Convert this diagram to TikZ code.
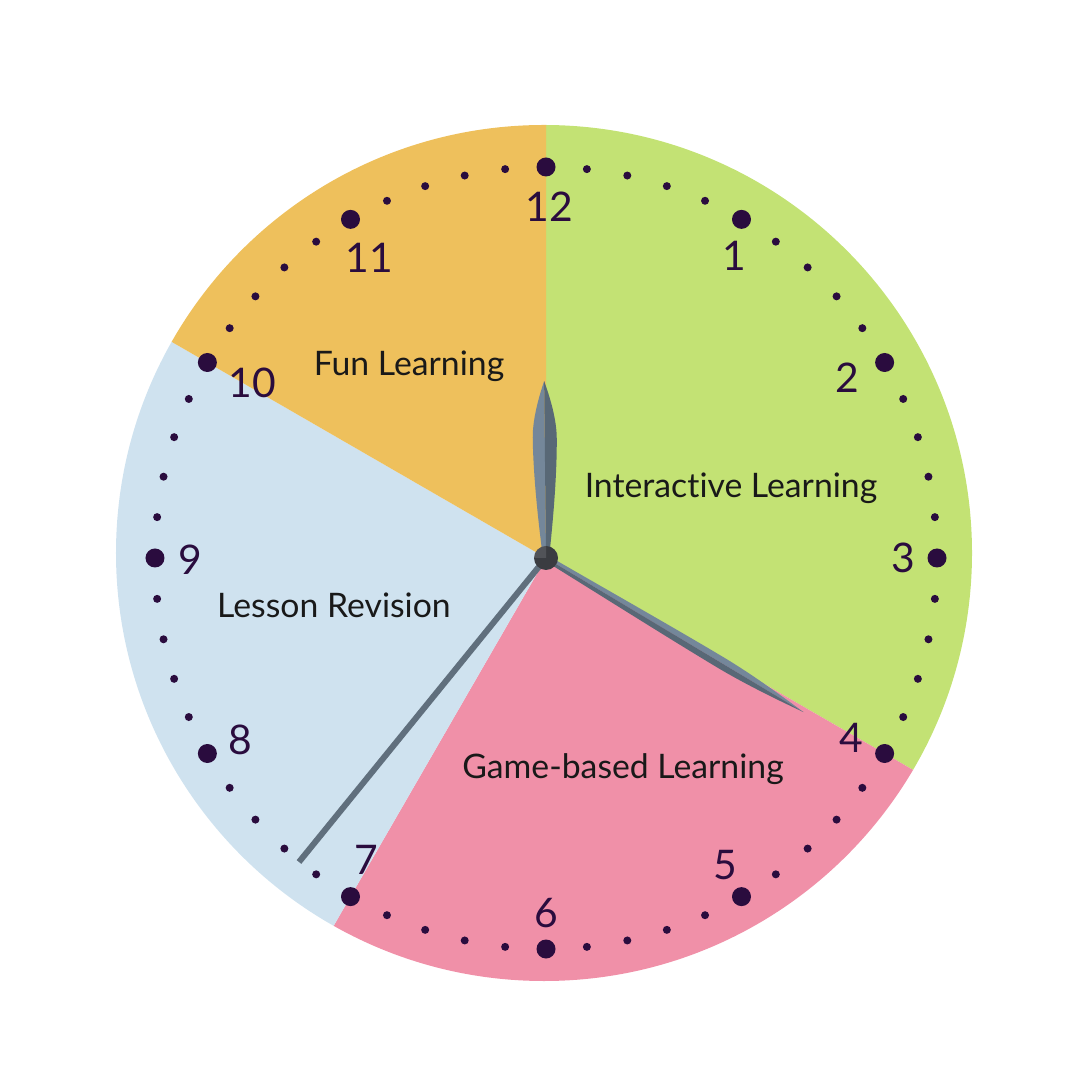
\documentclass[tikz,border=0pt]{standalone}
\usepackage{fontspec}
\setmainfont[Ligatures=NoCommon]{Lato}
\definecolor{interactive}{HTML}{C3E274}
\definecolor{gamebased}{HTML}{F090A8}
\definecolor{revision}{HTML}{CFE2EF}
\definecolor{funlearn}{HTML}{EEC05C}
\definecolor{dial}{HTML}{2A0C3E}
\definecolor{handlight}{HTML}{74879A}
\definecolor{handdark}{HTML}{586876}
\definecolor{capgray}{HTML}{3A3C41}
\tikzset{
  sectorlabel/.style={anchor=base, inner sep=0pt, text=black!90, font=\fontsize{9.6}{11}\selectfont},
  hournum/.style={inner sep=0pt, text=dial, font=\fontsize{11.6}{13}\selectfont},
}
% one leaf-shaped hand: angle, length, half width
\newcommand{\clockhand}[3]{%
  \begin{scope}[rotate=#1]
    \fill[handlight] (0,0) -- (0,3) .. controls (0.25*#2,0.7*#3) and (0.5*#2,#3) .. (0.68*#2,#3)
      .. controls (0.8*#2,#3) and (0.94*#2,0.3*#3) .. (#2,0) -- cycle;
    \fill[handdark] (0,0) -- (0,-3) .. controls (0.25*#2,-0.7*#3) and (0.5*#2,-#3) .. (0.68*#2,-#3)
      .. controls (0.8*#2,-#3) and (0.94*#2,-0.3*#3) .. (#2,0) -- cycle;
  \end{scope}}
\begin{document}
\begin{tikzpicture}[x=0.01cm,y=0.01cm]
  \useasboundingbox (-546,-522) rectangle (534,558);
  \coordinate (pivot) at (0,0);

  % coloured sectors of the face
  \begin{scope}
    \clip (-2,5) circle (428);
    \fill[interactive] (pivot) -- (90:700) arc (90:-30:700) -- cycle;
    \fill[gamebased] (pivot) -- (-30:700) arc (-30:-120:700) -- cycle;
    \fill[revision] (pivot) -- (240:700) arc (240:150:700) -- cycle;
    \fill[funlearn] (pivot) -- (150:700) arc (150:90:700) -- cycle;
  \end{scope}

  % minute dots
  \foreach \m in {0,...,59}{
    \pgfmathsetmacro{\dotr}{mod(\m,5)==0 ? 9.5 : 4}
    \fill[dial] ({90-6*\m}:391) circle (\dotr);
  }

  % hour numbers
  \foreach \h/\x/\y in {12/3/351, 1/188/302, 2/301/180, 3/357/0, 4/305/-180, 5/179/-307,
      6/0/-355, 7/-180/-302, 8/-306/-182, 9/-356/-2, 10/-294/175, 11/-177/300}
    \node[hournum] (h\h) at (\x,\y) {\h};

  % sector labels
  \node[sectorlabel] (interlabel) at (185,60) {Interactive Learning};
  \node[sectorlabel] (gamelabel) at (77,-220) {Game-based Learning};
  \node[sectorlabel] (revlabel) at (-212,-60) {Lesson Revision};
  \node[sectorlabel] (funlabel) at (-137,182) {Fun Learning};

  % hands
  \coordinate (sectip) at (-247,-304);
  \draw[handdark!95!white, line width=1.7pt] (pivot) -- (sectip);
  \clockhand{-30.9}{300}{6}
  \clockhand{90.6}{177}{12}
  \fill[capgray] (pivot) circle (12);
  \fill[white, opacity=0.12] (pivot) -- (90:12) arc (90:180:12) -- cycle;
\end{tikzpicture}
\end{document}
